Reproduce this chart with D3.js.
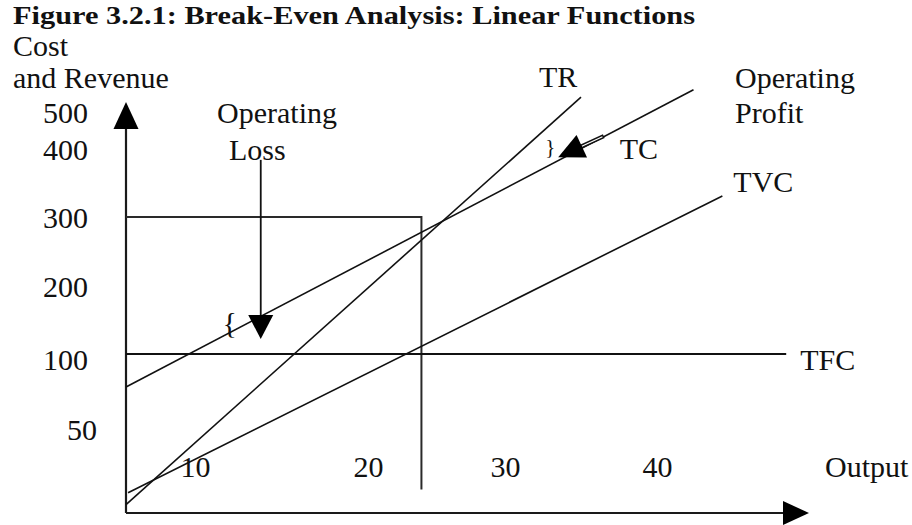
<!DOCTYPE html>
<html><head><meta charset="utf-8">
<script src="https://cdn.jsdelivr.net/npm/d3@7"></script>
<style>
html,body{margin:0;padding:0;background:#fff;}
svg{display:block;}
text{font-family:"Liberation Serif","Times New Roman",serif;fill:#111;}
</style></head><body>
<svg id="chart" width="912" height="525"></svg>
<script>
// ---------------- data ----------------
const titleText = "Figure 3.2.1: Break-Even Analysis: Linear Functions";
const yTitleLines = ["Cost", "and Revenue"];
const xTitle = "Output";

const xTickValues = [10, 20, 30, 40];
const yTickValues = [50, 100, 200, 300, 400, 500];

// schematic (non-uniform) axis breakpoints of the hand-drawn figure
const xBreaks = [0, 10, 20, 30, 40, 50];
const yBreaks = [0, 50, 100, 200, 300, 400, 500];

const seriesNames = ["TR", "TC", "TVC", "TFC"];
// [output, cost/revenue] end points of each straight line
const trLine  = [[0, 5],    [35, 540]];
const tcLine  = [[0, 78],   [42.4, 560]];
const tvcLine = [[0.3, 12], [44.3, 331]];
const tfcLine = [[0, 100],  [48.5, 100]];

// break-even box
const breakEvenOutput = 23.9;
const breakEvenLevel = 300;
const breakEvenDropTo = 14;

// annotation arrows [from, to] in data units
const lossArrow   = [[13.8, 384], [13.8, 122]];
const profitArrow = [[36.5, 435], [33.5, 388]];
const axisMax = {x: 50, y: 527};

// ---------------- scales ----------------
const svg = d3.select("#chart");
const x = d3.scaleLinear().domain(xBreaks).range([126, 195, 368, 505, 657, 809]);
const y = d3.scaleLinear().domain(yBreaks).range([513, 429, 354, 286, 217, 149, 112]);
const line = d3.line().x(d => x(d[0])).y(d => y(d[1]));
const ink = "#111";
const FS = 30;

// ---------------- title ----------------
svg.append("text").attr("x", 13).attr("y", 23.5)
  .attr("font-size", 26).attr("font-weight", "bold")
  .attr("textLength", 682).attr("lengthAdjust", "spacingAndGlyphs").text(titleText);

// y title
svg.append("text").attr("x", 13).attr("y", 56).attr("font-size", FS).text(yTitleLines[0]);
svg.append("text").attr("x", 13).attr("y", 88).attr("font-size", FS).text(yTitleLines[1]);

// ---------------- axes ----------------
const ax = svg.append("g").attr("stroke", "#1a1a1a").attr("stroke-width", 2.2).attr("fill", "none");
ax.append("line").attr("x1", x(0)).attr("y1", y(0)).attr("x2", x(0)).attr("y2", y(axisMax.y) + 20);
ax.append("line").attr("x1", x(0)).attr("y1", y(0)).attr("x2", x(axisMax.x) - 20).attr("y2", y(0));
// arrow heads
const yTip = [x(0), y(axisMax.y)];
svg.append("path").attr("fill", "#000")
  .attr("d", `M${yTip[0]},${yTip[1]} L${yTip[0] + 12.5},${yTip[1] + 27} L${yTip[0] - 12.5},${yTip[1] + 27}Z`);
const xTip = [x(axisMax.x), y(0)];
svg.append("path").attr("fill", "#000")
  .attr("d", `M${xTip[0]},${xTip[1]} L${xTip[0] - 26},${xTip[1] - 12} L${xTip[0] - 26},${xTip[1] + 12}Z`);

// tick labels
const yAxisG = svg.append("g").attr("transform", "translate(88,0)")
  .call(d3.axisLeft(y).tickValues(yTickValues).tickSize(0).tickPadding(0).tickFormat(d3.format("d")));
yAxisG.select(".domain").remove();
yAxisG.selectAll("text").attr("font-size", FS).attr("font-family", "Liberation Serif")
  .attr("fill", ink).attr("dy", "0.36em").attr("x", 0);
yAxisG.selectAll(".tick").filter(d => d === 50).select("text").attr("x", 9);
yAxisG.selectAll(".tick").filter(d => d === 100).select("text").attr("dy", "0.53em");

const xAxisG = svg.append("g").attr("transform", `translate(0,${y(0) - 36})`)
  .call(d3.axisBottom(x).tickValues(xTickValues).tickSize(0).tickPadding(0).tickFormat(d3.format("d")));
xAxisG.select(".domain").remove();
xAxisG.selectAll("text").attr("font-size", FS).attr("font-family", "Liberation Serif")
  .attr("fill", ink).attr("y", 0).attr("dy", 0);

svg.append("text").attr("x", 825).attr("y", y(0) - 36).attr("font-size", FS).text(xTitle);

// ---------------- break-even box ----------------
svg.append("path").attr("fill", "none").attr("stroke", "#2a2a2a").attr("stroke-width", 2)
  .attr("d", line([[0, breakEvenLevel], [breakEvenOutput, breakEvenLevel], [breakEvenOutput, breakEvenDropTo]]));

// ---------------- lines ----------------
const series = [trLine, tcLine, tvcLine, tfcLine];
svg.append("g").selectAll("path").data(series).join("path")
  .attr("fill", "none").attr("stroke", ink)
  .attr("stroke-width", (d, i) => i === 3 ? 2 : 1.6)
  .attr("d", d => line(d));

// series labels, offset from each line's end point
const labelOffsets = [[-42, -10], null, [11, -4], [14, 16]];
series.forEach((s, i) => {
  if (!labelOffsets[i]) return;
  const e = s[1];
  svg.append("text").attr("x", x(e[0]) + labelOffsets[i][0]).attr("y", y(e[1]) + labelOffsets[i][1])
    .attr("font-size", FS).text(seriesNames[i]);
});

// Operating Profit label (beside TC end)
const tcEnd = [x(tcLine[1][0]), y(tcLine[1][1])];
svg.append("text").attr("x", tcEnd[0] + 41.5).attr("y", tcEnd[1] - 2).attr("font-size", FS).text("Operating");
svg.append("text").attr("x", tcEnd[0] + 41.5).attr("y", tcEnd[1] + 33).attr("font-size", FS).text("Profit");

// ---------------- loss arrow ----------------
const lf = [x(lossArrow[0][0]), y(lossArrow[0][1])];
const lt = [x(lossArrow[1][0]), y(lossArrow[1][1])];
svg.append("line").attr("x1", lf[0]).attr("y1", lf[1]).attr("x2", lt[0]).attr("y2", lt[1] - 20)
  .attr("stroke", ink).attr("stroke-width", 1.8);
svg.append("path").attr("fill", "#000")
  .attr("d", `M${lt[0]},${lt[1]} L${lt[0] - 12.5},${lt[1] - 24} L${lt[0] + 12.5},${lt[1] - 24}Z`);
svg.append("text").attr("x", lf[0] - 43.7).attr("y", lf[1] - 37).attr("font-size", FS).text("Operating");
svg.append("text").attr("x", lf[0] - 31.7).attr("y", lf[1]).attr("font-size", FS).text("Loss");
svg.append("text").attr("x", lt[0] - 31).attr("y", lt[1] - 6).attr("font-size", FS)
  .attr("text-anchor", "middle").attr("fill", "#222").text("{");

// ---------------- profit arrow ----------------
const pf = [x(profitArrow[0][0]), y(profitArrow[0][1])];
const pt = [x(profitArrow[1][0]), y(profitArrow[1][1])];
const dx = pt[0] - pf[0], dy = pt[1] - pf[1], L = Math.hypot(dx, dy);
const ux = dx / L, uy = dy / L;
const hb = [pt[0] - ux * 26, pt[1] - uy * 26];
svg.append("line").attr("x1", pf[0]).attr("y1", pf[1]).attr("x2", hb[0] + ux * 4).attr("y2", hb[1] + uy * 4)
  .attr("stroke", ink).attr("stroke-width", 4.2);
svg.append("line").attr("x1", pf[0] + ux * 1.5).attr("y1", pf[1] + uy * 1.5).attr("x2", hb[0]).attr("y2", hb[1])
  .attr("stroke", "#fff").attr("stroke-width", 1.2);
svg.append("path").attr("fill", "#000")
  .attr("d", `M${pt[0]},${pt[1]} L${hb[0] - uy * 12.5},${hb[1] + ux * 12.5} L${hb[0] + uy * 12.5},${hb[1] - ux * 12.5}Z`);
svg.append("text").attr("x", pf[0] + 16).attr("y", pf[1] + 23).attr("font-size", FS).text(seriesNames[1]);
svg.append("text").attr("x", pt[0] - 8).attr("y", pt[1] - 3).attr("font-size", 21)
  .attr("text-anchor", "middle").attr("fill", "#222").text("}");
</script>
</body></html>
